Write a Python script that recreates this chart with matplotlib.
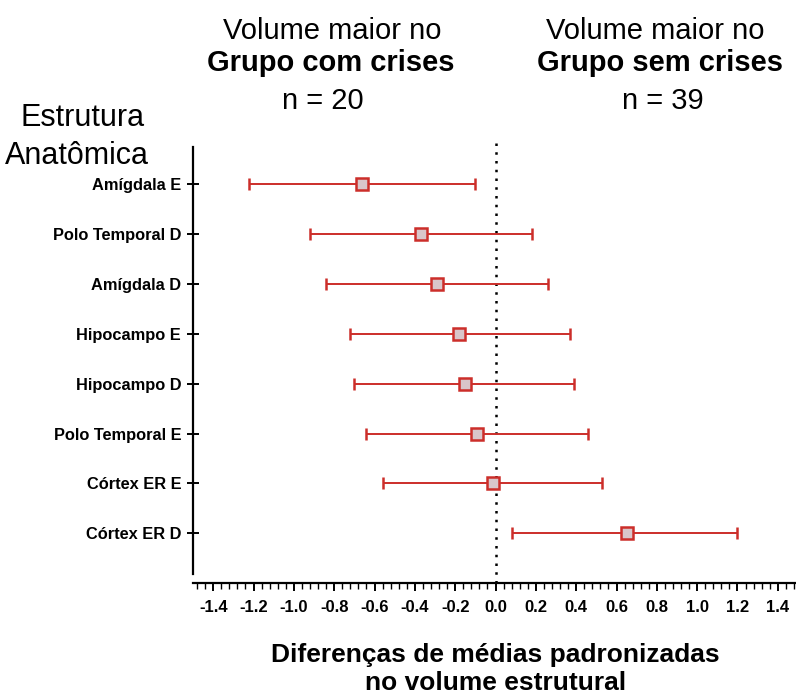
import numpy as np
import matplotlib
matplotlib.use("Agg")
import matplotlib.pyplot as plt
from matplotlib.ticker import MultipleLocator

plt.rcParams["font.family"] = ["Liberation Sans", "DejaVu Sans"]

# --- data -----------------------------------------------------------------
STRUCTURES = ["Amígdala E", "Polo Temporal D", "Amígdala D", "Hipocampo E",
              "Hipocampo D", "Polo Temporal E", "Córtex ER E", "Córtex ER D"]
MEANS   = [-0.66, -0.37, -0.29, -0.18, -0.15, -0.09, -0.01, 0.65]
CI_LOW  = [-1.22, -0.92, -0.84, -0.72, -0.70, -0.64, -0.56, 0.08]
CI_HIGH = [-0.10,  0.18,  0.26,  0.37,  0.39,  0.46,  0.53, 1.20]

XTICKS = [-1.4, -1.2, -1.0, -0.8, -0.6, -0.4, -0.2, 0.0,
          0.2, 0.4, 0.6, 0.8, 1.0, 1.2, 1.4]

RED  = "#cc2e2a"
FILL = "#d9c6ca"

fig = plt.figure(figsize=(7.96, 6.95), dpi=100)
ax = fig.add_axes([0.2425, 0.161, 0.760, 0.642])

means = np.array(MEANS)
lo = means - np.array(CI_LOW)
hi = np.array(CI_HIGH) - means
y = np.arange(len(STRUCTURES))

ax.errorbar(means, y, xerr=[lo, hi], fmt="s", color=RED, ecolor=RED,
            elinewidth=1.4, capsize=4.5, capthick=1.4,
            markersize=8, markerfacecolor=FILL, markeredgecolor=RED,
            markeredgewidth=1.8, zorder=3)

ax.axvline(0, color="black", lw=1.8, ls=(0, (1, 2.5)), zorder=2)

ax.set_xlim(-1.5, 1.5)
ax.set_ylim(8.0, -0.95)

ax.set_yticks(y)
ax.set_yticklabels(STRUCTURES, fontsize=11.8, fontweight="bold")
ax.set_xticks(XTICKS)
ax.set_xticklabels([f"{v:.1f}" for v in XTICKS], fontsize=12, fontweight="bold")
ax.xaxis.set_minor_locator(MultipleLocator(0.04))

ax.spines["top"].set_visible(False)
ax.spines["right"].set_visible(False)
ax.spines["left"].set_bounds(-0.75, 7.82)
ax.spines["left"].set_linewidth(1.6)
ax.spines["bottom"].set_linewidth(1.6)

ax.tick_params(axis="y", direction="inout", length=9, width=1.4, pad=4)
ax.tick_params(axis="x", which="major", direction="out", length=6, width=1.4, pad=6)
ax.tick_params(axis="x", which="minor", direction="out", length=4, width=1.0)

ax.set_xlabel("Diferenças de médias padronizadas\nno volume estrutural",
              fontsize=19, fontweight="bold", labelpad=20, linespacing=1.25)

# header texts
fig.text(0.418, 0.955, "Volume maior no", fontsize=21, ha="center", va="center")
fig.text(0.415, 0.909, "Grupo com crises", fontsize=21, fontweight="bold",
         ha="center", va="center")
fig.text(0.406, 0.854, "n = 20", fontsize=21, ha="center", va="center")

fig.text(0.823, 0.955, "Volume maior no", fontsize=21, ha="center", va="center")
fig.text(0.829, 0.909, "Grupo sem crises", fontsize=21, fontweight="bold",
         ha="center", va="center")
fig.text(0.833, 0.854, "n = 39", fontsize=21, ha="center", va="center")

fig.text(0.104, 0.830, "Estrutura", fontsize=22, ha="center", va="center")
fig.text(0.097, 0.775, "Anatômica", fontsize=22, ha="center", va="center")

fig.savefig("out.png", dpi=100)
